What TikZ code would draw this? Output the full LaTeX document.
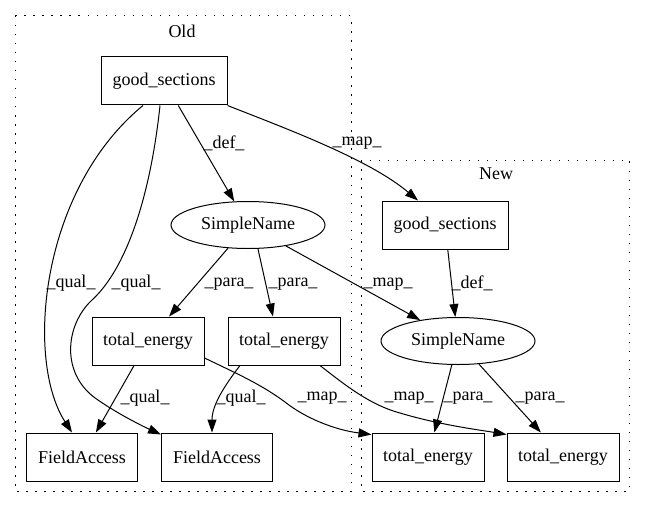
\documentclass[tikz,border=0pt]{standalone}
\usepackage{fontspec}
\setmainfont{Liberation Serif}
\usetikzlibrary{arrows.meta}
\usetikzlibrary{shapes.geometric}

\begin{document}
\begin{tikzpicture}[x=1pt,y=-1pt,
  font=\fontsize{18}{21}\selectfont,
  box/.style={draw,rectangle,line width=1pt,minimum width=#1,minimum height=48pt,inner sep=0pt},
  box/.default=112pt,
  oval/.style={draw,ellipse,line width=1pt,minimum width=154pt,minimum height=47pt,inner sep=0pt},
  edge/.style={line width=1pt,-{Triangle[length=13pt,width=9pt]}},
  cluster/.style={line width=1pt,dash pattern=on 1.5pt off 7.5pt},
  lbl/.style={inner sep=0pt}]
\useasboundingbox (0,0) rectangle (647,508);
\draw[cluster] (15,16) rectangle (351,491);
\draw[cluster] (361,160) rectangle (629,491);
\node[lbl] (old) at (182,31) {Old};
\node[lbl] (new) at (496,174) {New};
\node[box=126pt] (gsOld) at (164,81) {good\_sections};
\node[oval] (snOld) at (248,225) {SimpleName};
\node[box] (te1) at (148,341) {total\_energy};
\node[box] (te2) at (284,341) {total\_energy};
\node[box=111pt] (fa1) at (82,457) {FieldAccess};
\node[box=111pt] (fa2) at (217,457) {FieldAccess};
\node[box=126pt] (gsNew) at (445,225) {good\_sections};
\node[oval] (snNew) at (458,341) {SimpleName};
\node[box] (te3) at (428,457) {total\_energy};
\node[box] (te4) at (563,457) {total\_energy};
\draw[edge] ([xshift=-21pt]gsOld.south) .. controls (40,190) and (25,360) .. ([xshift=-10pt]fa1.north);
\draw[edge] ([xshift=-4pt]gsOld.south) .. controls (150,200) and (125,270) .. (92,300)
  .. controls (65,325) and (60,375) .. (98,400) .. controls (115,412) and (140,425) .. ([yshift=-2pt]fa2.north west);
\draw[edge] (gsOld) -- (snOld);
\draw[edge] (gsOld.south east) .. controls (290,130) and (370,160) .. ([xshift=-27pt]gsNew.north);
\draw[edge] (snOld) -- (te1);
\draw[edge] ([xshift=10pt]snOld.south) -- ([xshift=-11pt]te2.north);
\draw[edge] (snOld) -- (snNew);
\draw[edge] (gsNew) -- (snNew);
\draw[edge] (te1) -- (fa1);
\draw[edge] ([xshift=-44pt]te2.south) .. controls (225,385) and (212,405) .. ([xshift=-5pt]fa2.north);
\draw[edge] ([yshift=-17pt]te1.east) .. controls (240,375) and (262,385) .. (285,402)
  .. controls (305,418) and (335,430) .. ([yshift=-2pt]te3.north west);
\draw[edge] ([xshift=36pt]te2.south) .. controls (345,385) and (370,405) .. (400,413)
  .. controls (440,425) and (480,430) .. ([yshift=-2pt]te4.north west);
\draw[edge] (snNew) -- (te3);
\draw[edge] (snNew) -- (te4);
\node[lbl] (l1) at (224,143) {\_def\_};
\node[lbl] (l2) at (357,143) {\_map\_};
\node[lbl] (l3) at (71,283) {\_qual\_};
\node[lbl] (l4) at (136,283) {\_qual\_};
\node[lbl] (l5) at (229,284) {\_para\_};
\node[lbl] (l6) at (293,284) {\_para\_};
\node[lbl] (l7) at (388,284) {\_map\_};
\node[lbl] (l8) at (472,283) {\_def\_};
\node[lbl] (l9) at (145,398) {\_qual\_};
\node[lbl] (l10) at (241,398) {\_qual\_};
\node[lbl] (l11) at (322,398) {\_map\_};
\node[lbl] (l12) at (409,398) {\_map\_};
\node[lbl] (l13) at (468,398) {\_para\_};
\node[lbl] (l14) at (540,398) {\_para\_};
\end{tikzpicture}
\end{document}
